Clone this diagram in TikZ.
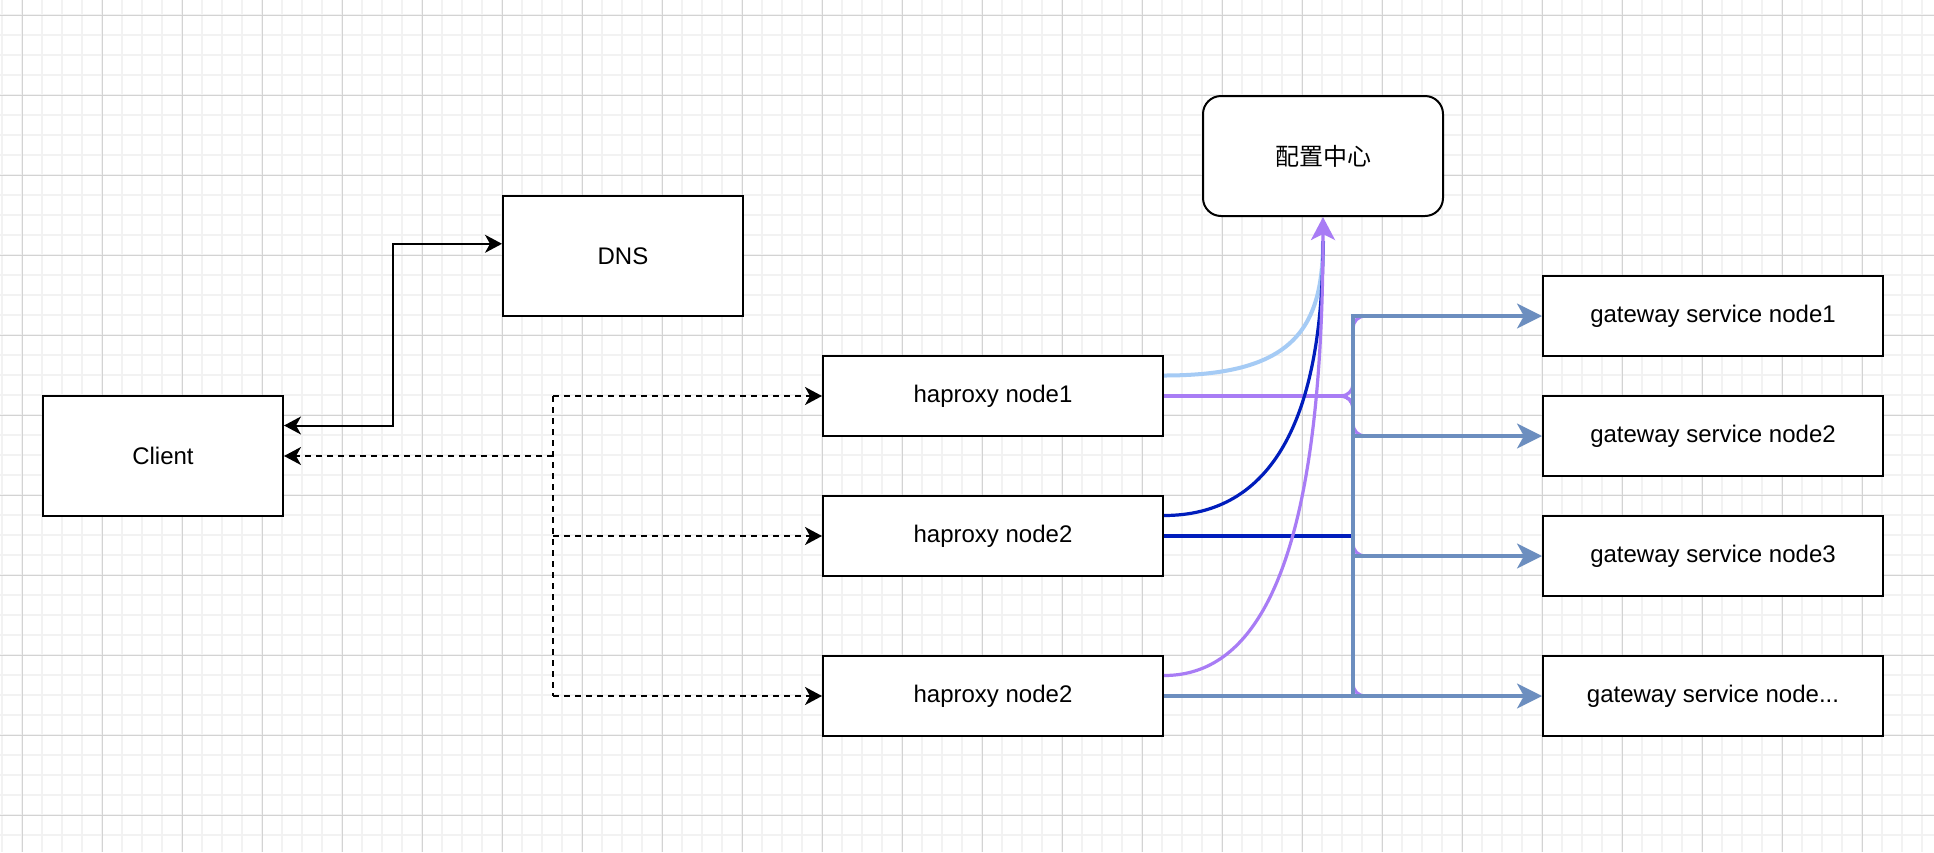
\documentclass[tikz,border=0pt]{standalone}
\usepackage{fontspec}
\setmainfont{Liberation Sans}
\newfontfamily\cjk{Noto Sans CJK SC}
\usetikzlibrary{arrows.meta,calc}
\definecolor{gridminor}{HTML}{F2F2F2}
\definecolor{gridmajor}{HTML}{D3D3D3}
\definecolor{steel}{HTML}{6C8EBF}
\definecolor{lav}{HTML}{A87CF5}
\definecolor{skyb}{HTML}{A5CBF5}
\definecolor{navy}{HTML}{001DBC}
\begin{document}
\begin{tikzpicture}[x=0.5pt,y=-0.5pt,
  font=\fontsize{12}{14}\selectfont,
  box/.style={draw=black, line width=1pt, fill=white, inner sep=0pt, align=center},
  smallbox/.style={box, minimum width=120pt, minimum height=60pt},
  widebox/.style={box, minimum width=170pt, minimum height=40pt},
  blk/.style={draw=black, line width=1pt},
  dsh/.style={draw=black, line width=1pt, dash pattern=on 3pt off 2.5pt},
  blkarr/.style={-{Stealth[length=8.5pt,width=9pt,inset=2.5pt]}},
  stl/.style={draw=steel, line width=1.6pt, -{Stealth[length=12.5pt,width=12.5pt,inset=3.5pt]}},
  lavl/.style={draw=lav, line width=1.6pt},
  skyl/.style={draw=skyb, line width=2pt},
  navyl/.style={draw=navy, line width=1.6pt},
  minorline/.style={draw=gridminor, line width=1pt},
  majorline/.style={draw=gridmajor, line width=0.5pt}]
\useasboundingbox (0,0) rectangle (1934,852);
\fill[white] (0,0) rectangle (1934,852);
% grid
\foreach \x in {2.3,22.3,...,1934} \draw[minorline] (\x,0) -- (\x,852);
\foreach \y in {-4.7,15.3,...,852} \draw[minorline] (0,\y) -- (1934,\y);
\foreach \x in {22.3,102.3,...,1934} \draw[majorline] (\x,0) -- (\x,852);
\foreach \y in {15.3,95.3,...,852} \draw[majorline] (0,\y) -- (1934,\y);
% nodes
\node[smallbox] (client) at (163,456) {Client};
\node[smallbox] (dns) at (623,256) {DNS};
\node[smallbox, rounded corners=9pt] (cfg) at (1323,156) {\cjk 配置中心};
\node[widebox] (hap1) at (993,396) {haproxy node1};
\node[widebox] (hap2) at (993,536) {haproxy node2};
\node[widebox] (hap3) at (993,696) {haproxy node2};
\node[widebox] (gw1) at (1713,316) {gateway service node1};
\node[widebox] (gw2) at (1713,436) {gateway service node2};
\node[widebox] (gw3) at (1713,556) {gateway service node3};
\node[widebox] (gw4) at (1713,696) {gateway service node...};
% client <-> dns
\coordinate (ca) at ($(client.north east)!0.25!(client.south east)$);
\coordinate (da) at ($(dns.north west)!0.4!(dns.south west)$);
\draw[blk, {Stealth[length=8.5pt,width=9pt,inset=2.5pt]}-{Stealth[length=8.5pt,width=9pt,inset=2.5pt]}]
  (ca) -| ($(ca)!0.5!(da)$) |- (da);
% dashed client <-> haproxies
\coordinate (dj) at ($(client.east)!0.5!(client.east -| hap1.west)$);
\draw[dsh, blkarr] (dj) -- (client.east);
\draw[dsh] (dj |- hap1.west) -- (dj |- hap3.west);
\draw[dsh, blkarr] (dj |- hap1.west) -- (hap1.west);
\draw[dsh, blkarr] (dj |- hap2.west) -- (hap2.west);
\draw[dsh, blkarr] (dj |- hap3.west) -- (hap3.west);
% coloured connectors
\coordinate (tk) at ($(hap3.east)!0.5!(gw4.west)$);
\coordinate (h1a) at ($(hap1.north east)!0.25!(hap1.south east)$);
\coordinate (h2a) at ($(hap2.north east)!0.25!(hap2.south east)$);
\coordinate (h3a) at ($(hap3.north east)!0.25!(hap3.south east)$);
\coordinate (cfgin) at ($(cfg.south)+(0,24)$);
\draw[skyl] (h1a) .. controls +(127,0) and +(0,90) .. (cfgin);
\foreach \g in {gw1,gw2,gw3,gw4}
  \draw[lavl, rounded corners=6pt] (hap1.east) -| (tk |- \g.west) -- ($(\g.west)+(-30,0)$);
\draw[navyl] (h2a) .. controls +(107,0) and +(0,180) .. (cfgin);
\draw[navyl] (hap2.east) -- (tk |- hap2.east);
\draw[lavl, -{Stealth[length=11.5pt,width=12pt,inset=3pt]}] (h3a) .. controls +(77,0) and +(0,384) .. (cfg.south);
\draw[stl] (hap3.east) -- (gw4.west);
\draw[stl] (tk) |- (gw1.west);
\draw[stl] (tk |- gw2.west) -- (gw2.west);
\draw[stl] (tk |- gw3.west) -- (gw3.west);
\end{tikzpicture}
\end{document}
